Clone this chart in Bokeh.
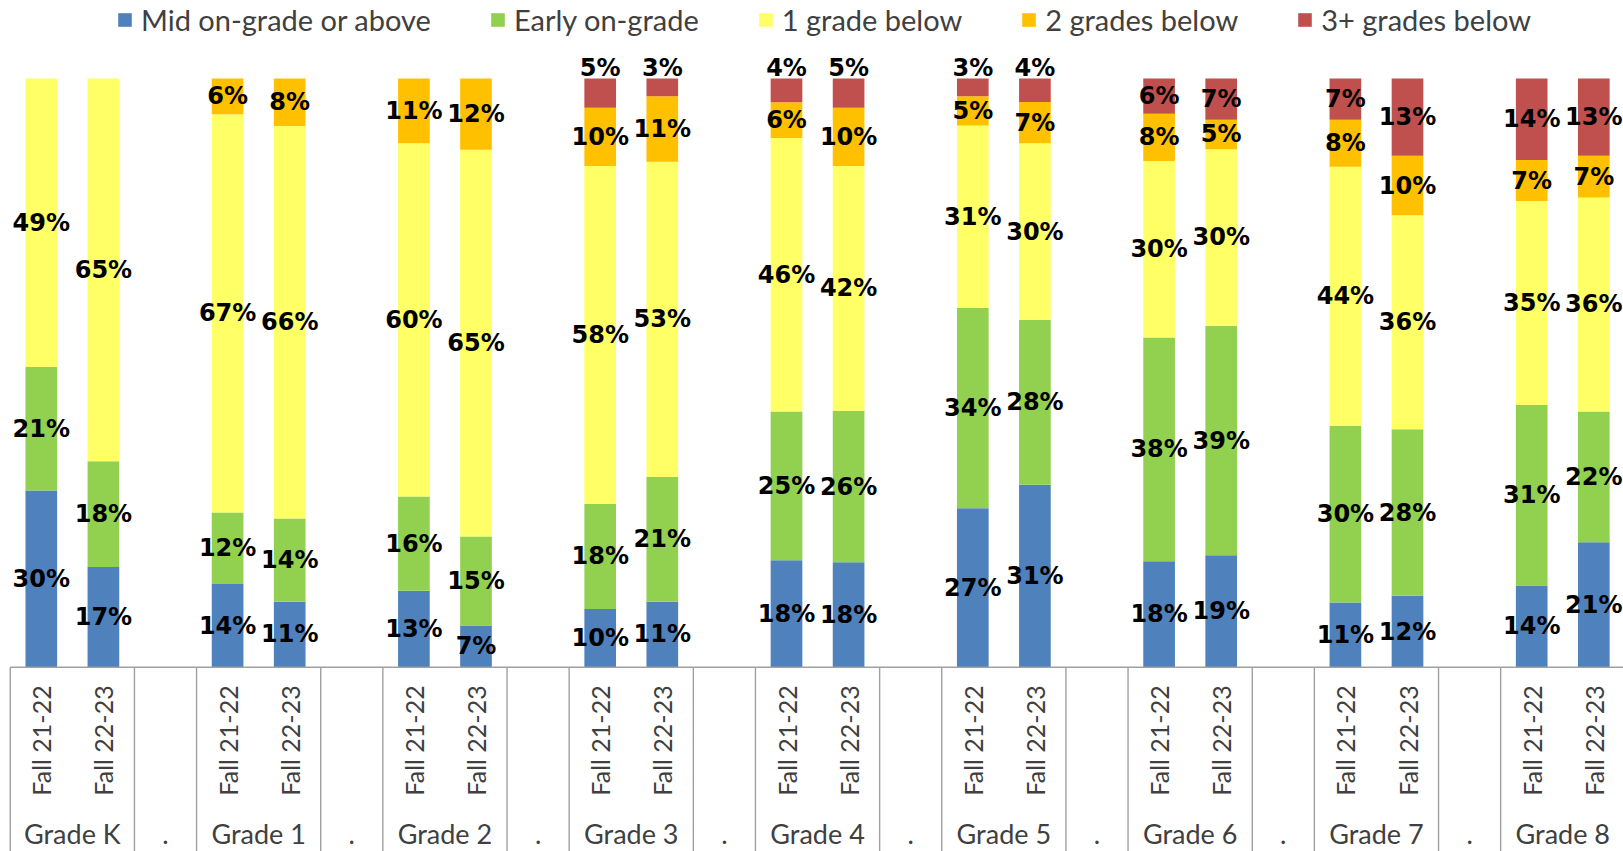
import math
from bokeh.plotting import figure
from bokeh.models import ColumnDataSource, Range1d, Legend
from bokeh.core.properties import value
from bokeh.embed import file_html
from bokeh.resources import INLINE

# ---------------- data ----------------
grades = ["Grade K", "Grade 1", "Grade 2", "Grade 3", "Grade 4",
          "Grade 5", "Grade 6", "Grade 7", "Grade 8"]
periods = ["Fall 21-22", "Fall 22-23"]
separator_label = "."

series_names = ["Mid on-grade or above", "Early on-grade", "1 grade below",
                "2 grades below", "3+ grades below"]

# values per grade: [Fall 21-22, Fall 22-23]
mid_on_grade = [[30, 17], [14, 11], [13, 7], [10, 11], [18, 18],
                [27, 31], [18, 19], [11, 12], [14, 21]]
early_on_grade = [[21, 18], [12, 14], [16, 15], [18, 21], [25, 26],
                  [34, 28], [38, 39], [30, 28], [31, 22]]
one_below = [[49, 65], [67, 66], [60, 65], [58, 53], [46, 42],
             [31, 30], [30, 30], [44, 36], [35, 36]]
two_below = [[0, 0], [6, 8], [11, 12], [10, 11], [6, 10],
             [5, 7], [8, 5], [8, 10], [7, 7]]
three_below = [[0, 0], [0, 0], [0, 0], [5, 3], [4, 5],
               [3, 4], [6, 7], [7, 13], [14, 13]]

colors = ["#4F81BD", "#92D050", "#FFFF66", "#FFC000", "#C0504D"]

# ---------------- category slots (grade groups separated by "." slots) ----------------
slots = []            # ordered category slots
groups = []           # (label, first_slot_index, last_slot_index)
for gi, g in enumerate(grades):
    start = len(slots)
    for per in periods:
        slots.append((g, per))
    groups.append((g, start, len(slots) - 1))
    if gi < len(grades) - 1:
        slots.append(("sep%d" % gi, separator_label))
        groups.append((separator_label, len(slots) - 1, len(slots) - 1))
slot_pos = {s: i + 0.5 for i, s in enumerate(slots)}

series = [mid_on_grade, early_on_grade, one_below, two_below, three_below]
keys = ["s0", "s1", "s2", "s3", "s4"]

bar_x, bar_period = [], []
cols = {k: [] for k in keys}
lab_x, lab_y, lab_t = [], [], []
for gi, g in enumerate(grades):
    for pi, per in enumerate(periods):
        vals = [s[gi][pi] for s in series]
        tot = float(sum(vals))          # 100% stacked
        x = slot_pos[(g, per)]
        bar_x.append(x)
        bar_period.append(per)
        cum = 0.0
        for si, v in enumerate(vals):
            frac = v / tot
            cols[keys[si]].append(frac)
            if v > 0:
                mid = cum + frac / 2
                if si == len(vals) - 1 and v <= 5:
                    mid = 1.0 + 0.017   # small top segment: label sits above the bar
                lab_x.append(x)
                lab_y.append(mid)
                lab_t.append("%d%%" % v)
            cum += frac

src = ColumnDataSource(dict(x=bar_x, **cols))

# ---------------- figure ----------------
W, H = 1623, 851
slot_px = 62.1
x0_px = 9.75               # left edge of first slot
unit = 588.7               # px for 100%
top_px = 78.0              # y of the 100% line
x_start = -x0_px / slot_px
x_end = x_start + W / slot_px
y_top = 1 + top_px / unit
y_bot = y_top - H / unit

p = figure(width=W, height=H,
           x_range=Range1d(x_start, x_end),
           y_range=Range1d(y_bot, y_top),
           output_backend="svg", toolbar_location=None,
           min_border=0)
p.xaxis.visible = False
p.yaxis.visible = False
p.xgrid.visible = False
p.ygrid.visible = False
p.outline_line_color = None

renderers = p.vbar_stack(keys, x="x", width=0.51, color=colors, source=src,
                         line_color=None)

# data labels
p.text(x=lab_x, y=lab_y, text=lab_t, text_font=value("DejaVu Sans"),
       text_font_style="bold", text_font_size="24px", text_align="center",
       text_baseline="middle", text_color="black")

# category axis box lines
line_color = "#A0A0A0"
bx = [slot_pos[slots[g[1]]] - 0.5 for g in groups] + [slot_pos[slots[-1]] + 0.5]
p.segment(x0=bx, x1=bx, y0=[0] * len(bx), y1=[y_bot] * len(bx),
          line_color=line_color, line_width=1.4)
p.segment(x0=[bx[0]], x1=[bx[-1]], y0=[0], y1=[0], line_color=line_color,
          line_width=1.4)

axis_text_color = "#404040"
# period labels (rotated)
p.text(x=bar_x, y=[-0.1245] * len(bar_x), text=bar_period,
       angle=math.pi / 2, text_font=value("Lato"), text_font_size="25px",
       text_align="center", text_baseline="middle", text_color=axis_text_color)
# grade and separator labels
gx = [(slot_pos[slots[g[1]]] + slot_pos[slots[g[2]]]) / 2 for g in groups]
p.text(x=gx, y=[-0.2825] * len(groups), text=[g[0] for g in groups],
       text_font=value("Lato"), text_font_size="27px",
       text_align="center", text_baseline="middle", text_color=axis_text_color)

legend = Legend(items=[(n, [r]) for n, r in zip(series_names, renderers)],
                orientation="horizontal", location=(116, H - 37),
                margin=0, padding=2, spacing=58, label_standoff=8,
                glyph_width=17, glyph_height=17,
                label_text_font="Lato", label_text_font_size="29px",
                label_text_color=axis_text_color,
                border_line_color=None, background_fill_alpha=0)
p.add_layout(legend)

open("out.html", "w").write(file_html(p, INLINE))
